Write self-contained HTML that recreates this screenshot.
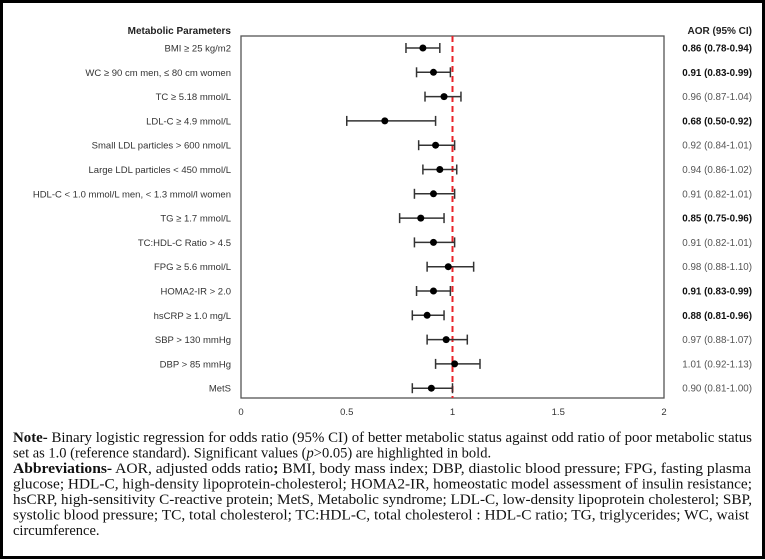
<!DOCTYPE html>
<html><head><meta charset="utf-8"><style>
html,body{margin:0;padding:0;background:#fff;}
svg{display:block;font-family:"Liberation Sans",sans-serif;}
</style></head><body>
<svg id="c" width="765" height="560" viewBox="0 0 765 560">
<rect x="1.5" y="1.5" width="762" height="556" fill="#fff" stroke="#000" stroke-width="3"/>
<rect x="241" y="36" width="423" height="362" fill="none" stroke="#555" stroke-width="1.3"/>
<text x="231" y="34" text-anchor="end" font-size="10" font-weight="bold" fill="#222">Metabolic Parameters</text>
<text x="752" y="34" text-anchor="end" font-size="10" font-weight="bold" fill="#222">AOR (95% CI)</text>
<g id="marks"></g>
<g font-family="Liberation Serif, serif" font-size="14.5" fill="#111">
<text x="13" y="442" textLength="739" lengthAdjust="spacingAndGlyphs"><tspan font-weight="bold">Note-</tspan> Binary logistic regression for odds ratio (95% CI) of better metabolic status against odd ratio of poor metabolic status</text>
<text x="13" y="457.5">set as 1.0 (reference standard). Significant values (<tspan font-style="italic">p</tspan>&gt;0.05) are highlighted in bold.</text>
<text x="13" y="473" textLength="738" lengthAdjust="spacingAndGlyphs"><tspan font-weight="bold">Abbreviations-</tspan> AOR, adjusted odds ratio<tspan font-weight="bold">;</tspan>  BMI, body mass index; DBP, diastolic blood pressure; FPG, fasting plasma</text>
<text x="13" y="488.5" textLength="739" lengthAdjust="spacingAndGlyphs">glucose; HDL-C, high-density lipoprotein-cholesterol; HOMA2-IR, homeostatic model assessment of insulin resistance;</text>
<text x="13" y="504" textLength="739" lengthAdjust="spacingAndGlyphs">hsCRP, high-sensitivity C-reactive protein;  MetS, Metabolic syndrome; LDL-C, low-density lipoprotein cholesterol; SBP,</text>
<text x="13" y="519.5" textLength="736" lengthAdjust="spacingAndGlyphs">systolic blood pressure; TC, total cholesterol; TC:HDL-C, total cholesterol : HDL-C ratio; TG, triglycerides; WC, waist</text>
<text x="13" y="535">circumference.</text>
</g>
</svg>
<script>
const categories=["BMI ≥ 25 kg/m2","WC ≥  90 cm men, ≤ 80 cm women","TC ≥ 5.18 mmol/L","LDL-C ≥ 4.9 mmol/L","Small LDL particles > 600 nmol/L","Large LDL particles < 450 mmol/L","HDL-C < 1.0 mmol/L men, < 1.3 mmol/l women","TG ≥ 1.7 mmol/L","TC:HDL-C Ratio > 4.5","FPG ≥ 5.6 mmol/L","HOMA2-IR > 2.0","hsCRP ≥ 1.0 mg/L","SBP > 130 mmHg","DBP > 85 mmHg","MetS"];
const aor=[0.86,0.91,0.96,0.68,0.92,0.94,0.91,0.85,0.91,0.98,0.91,0.88,0.97,1.01,0.90];
const lower=[0.78,0.83,0.87,0.50,0.84,0.86,0.82,0.75,0.82,0.88,0.83,0.81,0.88,0.92,0.81];
const upper=[0.94,0.99,1.04,0.92,1.01,1.02,1.01,0.96,1.01,1.10,0.99,0.96,1.07,1.13,1.00];
const significant=[1,1,0,1,0,0,0,1,0,0,1,1,0,0,0];
const xTicks=[0,0.5,1,1.5,2];
const refValue=1;
const NS="http://www.w3.org/2000/svg";
const g=document.getElementById('marks');
const xs=v=>241+v*211.5;
const ys=i=>48+i*24.3;
function mk(tag,attrs,parent){const e=document.createElementNS(NS,tag);for(const k in attrs)e.setAttribute(k,attrs[k]);(parent||g).appendChild(e);return e;}
xTicks.forEach(t=>{
  const e=mk('text',{x:xs(t),y:415,'text-anchor':'middle','font-size':'9.5',fill:'#333'});
  e.textContent=String(t);
  
  
});
const rl=mk('line',{x1:xs(refValue),x2:xs(refValue),y1:36,y2:398,stroke:'#e8232a','stroke-width':2,'stroke-dasharray':'6,4'});


categories.forEach((c,i)=>{
  const y=ys(i);
  const lab=mk('text',{x:231,y:y+3.5,'text-anchor':'end','font-size':'9.5',fill:'#333'});
  lab.textContent=c;
  
  
  const l=mk('line',{x1:xs(lower[i]),x2:xs(upper[i]),y1:y,y2:y,stroke:'#333','stroke-width':1.5});
  
  
  [lower[i],upper[i]].forEach(v=>{
    const cap=mk('line',{x1:xs(v),x2:xs(v),y1:y-5,y2:y+5,stroke:'#333','stroke-width':1.5});
    
    
  });
  const p=mk('circle',{cx:xs(aor[i]),cy:y,r:3.5,fill:'#000'});
  
  
  const v=mk('text',{x:752,y:y+3.5,'text-anchor':'end','font-size':'9.8','font-weight':significant[i]?'bold':'normal',fill:significant[i]?'#111':'#555'});
  v.textContent=aor[i].toFixed(2)+' ('+lower[i].toFixed(2)+'-'+upper[i].toFixed(2)+')';
  
  
});
</script>
</body></html>
